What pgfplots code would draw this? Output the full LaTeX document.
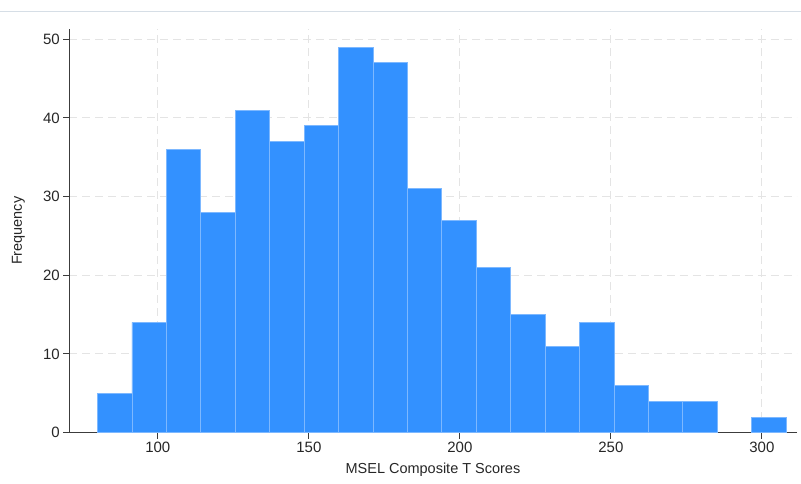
\documentclass[border=0pt]{standalone}
\usepackage{pgfplots}
\pgfplotsset{compat=1.18}
\usepackage{fontspec}
\setmainfont{Liberation Sans}
\definecolor{barblue}{HTML}{3391FF}
\definecolor{baredge}{HTML}{7DB8FF}
\definecolor{gridc}{HTML}{E4E4E4}
\definecolor{axc}{HTML}{3C3C3C}
\pgfplotsset{
  layers/mylayers/.define layer set={axis background,axis grid,main,axis ticks,axis lines,axis tick labels,axis descriptions,axis foreground}{},
}
\begin{document}
\begin{tikzpicture}
\begin{axis}[
  set layers=mylayers,
  at={(0pt,0pt)}, anchor=south west,
  scale only axis,
  width=728pt, height=404pt,
  xmin=70.7, xmax=311.5,
  ymin=0, ymax=51.3,
  axis x line=bottom, axis y line=left,
  axis line style={axc, line width=1pt, -},
  xtick={100,150,200,250,300},
  ytick={0,10,20,30,40,50},
  tick align=outside,
  major tick length=6pt,
  tick style={axc, line width=1pt},
  grid=major,
  major grid style={gridc, dash pattern=on 8pt off 5pt, line width=0.9pt},
  ticklabel style={font=\fontsize{15}{18}\selectfont, text=black!85},
  /pgf/number format/assume math mode=true,
  xlabel={MSEL Composite T Scores},
  ylabel={Frequency},
  label style={font=\fontsize{14.5}{17}\selectfont, text=black!85},
  xlabel style={at={(axis description cs:0.5,-0.0916)}, anchor=center},
  ylabel style={at={(axis description cs:-0.070,0.5)}, anchor=center},
  clip=false,
]
\addplot[ybar interval, fill=barblue, draw=baredge, line width=0.6pt] coordinates {
(80,5) (91.4,14) (102.8,36) (114.2,28) (125.6,41) (137,37) (148.4,39) (159.8,49) (171.2,47) (182.6,31) (194,27) (205.4,21) (216.8,15) (228.2,11) (239.6,14) (251,6) (262.4,4) (273.8,4) (285.2,0)
};
\addplot[ybar interval, fill=barblue, draw=baredge, line width=0.6pt] coordinates {
(296.6,2) (308,2)
};
\end{axis}
\draw[line width=0.8pt, color={rgb,255:red,214;green,222;blue,230}] (-69pt,422pt) -- (732pt,422pt);
\useasboundingbox (-69pt,-51pt) rectangle (732pt,433pt);
\end{tikzpicture}
\end{document}
